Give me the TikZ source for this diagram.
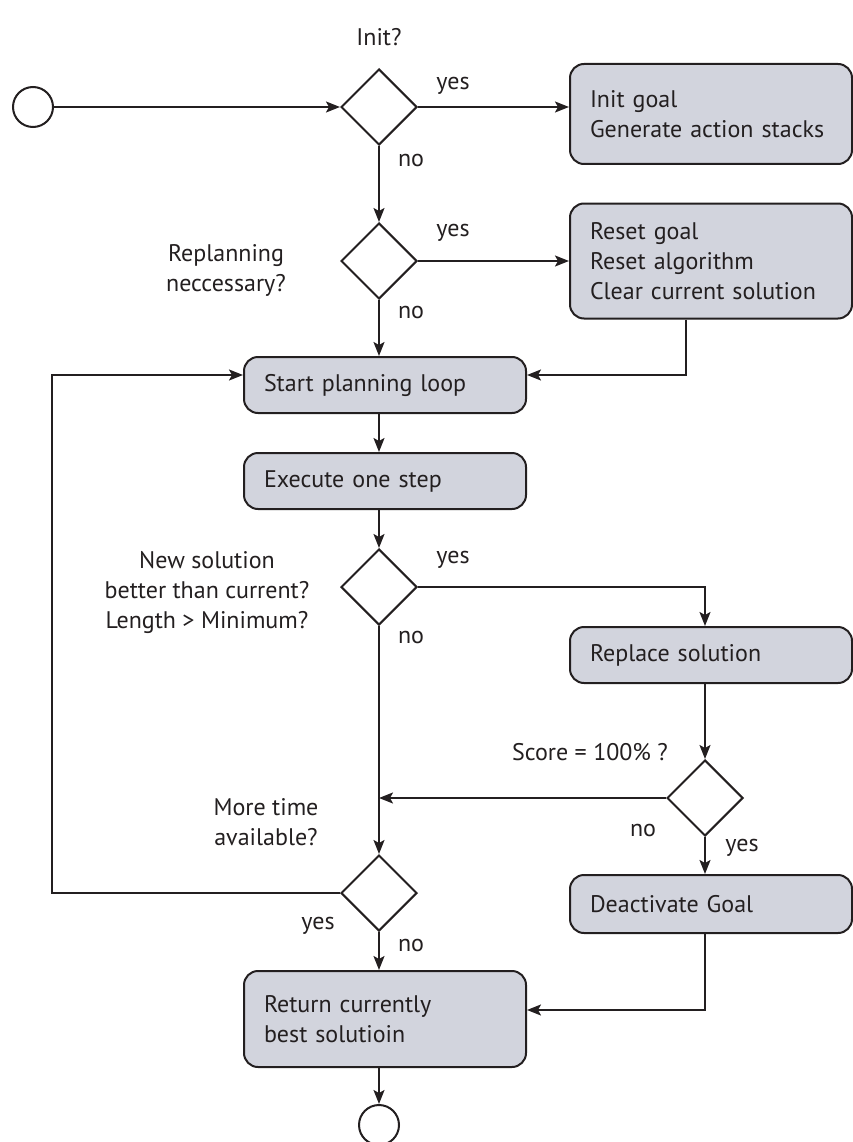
\documentclass[tikz,border=0pt]{standalone}
\usepackage{fontspec}
\setmainfont{PT Sans}
\usetikzlibrary{shapes.geometric}
\usetikzlibrary{arrows.meta}
\usetikzlibrary{calc}

\definecolor{boxgray}{RGB}{210,212,221}
\definecolor{ink}{RGB}{35,31,32}

\begin{document}
\begin{tikzpicture}[x=1pt, y=-1pt, line width=2pt, color=ink,
  font=\fontsize{24}{30}\selectfont,
  act/.style={rectangle, rounded corners=14pt, draw=ink, fill=boxgray,
    text width=242pt, align=left, inner xsep=20pt, inner ysep=0pt},
  dec/.style={diamond, draw=ink, fill=white, minimum width=76pt,
    minimum height=76pt, inner sep=0pt},
  term/.style={circle, draw=ink, fill=white, minimum size=40pt, inner sep=0pt},
  flow/.style={-{Stealth[length=14pt,width=11pt,inset=3pt]}},
  lbl/.style={inner sep=0pt, align=center}]

\useasboundingbox (0,0) rectangle (853,1142);

% main column at x = 379
\node[term] (start) at (33,107) {};
\node[dec] (dInit) at (379,107) {};
\node[dec] (dReplan) at (379,261) {};
\node[act, minimum height=100pt] (bInit) at (711,114) {Init goal\\Generate action stacks};
\node[act, minimum height=115pt] (bReset) at (711,261) {Reset goal\\Reset algorithm\\Clear current solution};
\node[act, minimum height=56pt] (bStart) at (385,385) {Start planning loop};
\node[act, minimum height=56pt] (bStep) at (385,481) {Execute one step};
\node[dec] (dBetter) at (379,587) {};
\node[act, minimum height=56pt] (bReplace) at (711,655) {Replace solution};
\node[dec] (dScore) at (705,798) {};
\node[act, minimum height=58pt] (bDeact) at (711,904) {Deactivate Goal};
\node[dec] (dTime) at (379,893) {};
\node[act, minimum height=96pt] (bReturn) at (385,1019) {Return currently\\best solutioin};
\node[term] (finish) at (379,1125) {};

% questions and answers
\node[lbl] (qInit) at (379,37) {Init?};
\node[lbl] (qReplan) at (226,270) {Replanning\\neccessary?};
\node[lbl] (qBetter) at (207,593) {New solution\\better than current?\\Length > Minimum?};
\node[lbl] (qScore) at (590,752) {Score = 100\% ?};
\node[lbl] (qTime) at (266,822) {More time\\available?};

\node[lbl] (yInit) at (453,86) {yes};
\node[lbl] (nInit) at (411,161) {no};
\node[lbl] (yReplan) at (453,233) {yes};
\node[lbl] (nReplan) at (411,312) {no};
\node[lbl] (yBetter) at (453,560) {yes};
\node[lbl] (nBetter) at (411,637) {no};
\node[lbl] (nScore) at (643,830) {no};
\node[lbl] (yScore) at (742,848) {yes};
\node[lbl] (yTime) at (318,926) {yes};
\node[lbl] (nTime) at (411,945) {no};

\coordinate (back) at (686,375);
\coordinate (loop) at (52,375);
\coordinate (done) at (705,1010);

% connectors
\draw[flow] (start) -- (dInit);
\draw[flow] (dInit.east) -- (dInit.east -| bInit.west);
\draw[flow] (dInit) -- (dReplan);
\draw[flow] (dReplan) -- (bReset);
\draw[flow] (dReplan) -- (bStart.north -| dReplan);
\draw[flow] (bReset.south -| back) |- (bStart.east |- back);
\draw[flow] (dTime.west) -| (loop) -- (bStart.west |- loop);
\draw[flow] (bStart.south -| dInit) -- (bStep.north -| dInit);
\draw[flow] (bStep.south -| dInit) -- (dBetter);
\draw[flow] (dBetter.east) -| (bReplace.north -| dScore);
\draw[flow] (dBetter) -- (dTime);
\draw[flow] (bReplace.south -| dScore) -- (dScore);
\draw[flow] (dScore.west) -- (dScore.west -| dTime);
\draw[flow] (dScore) -- (bDeact.north -| dScore);
\draw[flow] (bDeact.south -| done) |- (bReturn.east |- done);
\draw[flow] (dTime) -- (bReturn.north -| dTime);
\draw[flow] (bReturn.south -| dTime) -- (finish);

\end{tikzpicture}
\end{document}
